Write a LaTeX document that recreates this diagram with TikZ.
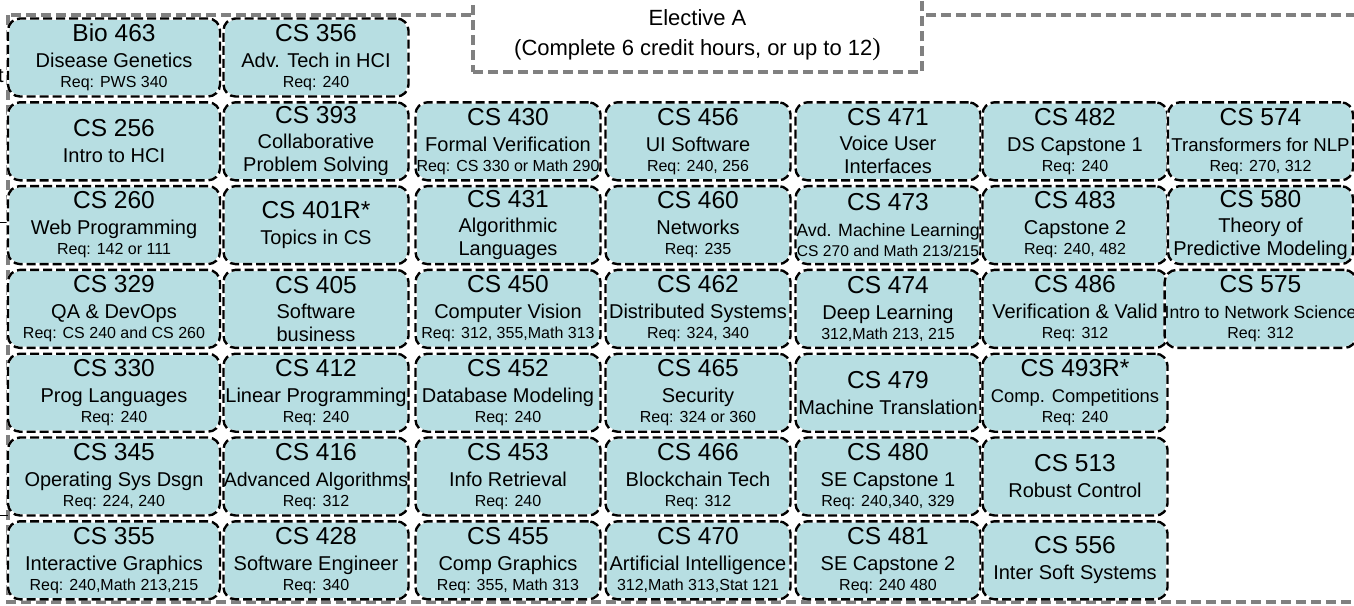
\documentclass[tikz,border=0pt]{standalone}
\usepackage{fontspec}
\setmainfont{Liberation Sans}
\newfontfamily\parenfont{Liberation Serif}
\usetikzlibrary{positioning}
\definecolor{crsfill}{RGB}{183,222,226}
\definecolor{framegray}{RGB}{128,128,128}
\newcommand{\cnum}[1]{{\fontsize{24.5pt}{26pt}\selectfont #1}}
\newcommand{\creq}[1]{{\fontsize{16pt}{18pt}\selectfont #1}}
\newcommand{\csmall}[2]{{\fontsize{#1pt}{20pt}\selectfont #2}}

\begin{document}
\begin{tikzpicture}[
    x=1pt, y=-1pt,
    node distance=5.8pt and 4pt,
    course/.style={rectangle, rounded corners=12pt, fill=crsfill, draw=white, line width=2.6pt,
        minimum width=185pt, minimum height=78pt, inner sep=0pt, outer sep=0pt,
        align=center, font=\fontsize{20pt}{20pt}\selectfont,
        postaction={draw=black, line width=2.4pt, dash pattern=on 9pt off 4pt}},
    widecourse/.style={course, minimum width=212pt},
    groupframe/.style={draw=framegray, line width=4.5pt, dash pattern=on 10pt off 5pt},
    titlebox/.style={groupframe, fill=white, minimum width=449pt, minimum height=102pt}
]
\useasboundingbox (0,0) rectangle (1354,605);
\clip (0,0) rectangle (1354,605);

% Group frame and heading
\draw[groupframe] (8,15) rectangle (1400,602);
\node[titlebox] (elective) at (697.5,21) {};
\node[align=center, font=\fontsize{22pt}{30pt}\selectfont] (electtext) at (697.5,35)
    {Elective A\\(Complete 6 credit hours, or up to 12{\parenfont\fontsize{25pt}{30pt}\selectfont )}};

% Cut-off links at the left edge
\node[anchor=base east, inner sep=0pt, font=\fontsize{20pt}{20pt}\selectfont] (tcut) at (4,82) {t};
\coordinate (linkA) at (0,222);
\coordinate (linkAend) at (8,222);
\coordinate (linkB) at (0,515);
\coordinate (linkBend) at (8,515);
\draw[line width=1pt] (linkA) -- (linkAend);
\draw[line width=1pt] (linkB) -- (linkBend);

% Column 1
\node[widecourse] (bio463) at (114,57.5) {\cnum{Bio 463}\\[6pt] Disease Genetics\\ \creq{Req: PWS 340}};
\node[widecourse, below=of bio463] (cs256) {\cnum{CS 256}\\[6pt] Intro to HCI};
\node[widecourse, below=of cs256] (cs260) {\cnum{CS 260}\\[6pt] Web Programming\\ \creq{Req: 142 or 111}};
\node[widecourse, below=of cs260] (cs329) {\cnum{CS 329}\\[6pt] QA \& DevOps\\ \creq{Req: CS 240 and CS 260}};
\node[widecourse, below=of cs329] (cs330) {\cnum{CS 330}\\[6pt] Prog Languages\\ \creq{Req: 240}};
\node[widecourse, below=of cs330] (cs345) {\cnum{CS 345}\\[6pt] Operating Sys Dsgn\\ \creq{Req: 224, 240}};
\node[widecourse, below=of cs345] (cs355) {\cnum{CS 355}\\[6pt] Interactive Graphics\\ \creq{Req: 240,Math 213,215}};

% Column 2
\node[course] (cs356) at (316,57.5) {\cnum{CS 356}\\[6pt] Adv. Tech in HCI\\ \creq{Req: 240}};
\node[course, below=of cs356] (cs393) {\cnum{CS 393}\\[5pt] Collaborative\\[3pt] Problem Solving};
\node[course, below=of cs393] (cs401) {\cnum{CS 401R*}\\[6pt] Topics in CS};
\node[course, below=of cs401] (cs405) {\cnum{CS 405}\\[5pt] Software\\[3pt] business};
\node[course, below=of cs405] (cs412) {\cnum{CS 412}\\[6pt] Linear Programming\\ \creq{Req: 240}};
\node[course, below=of cs412] (cs416) {\cnum{CS 416}\\[6pt] \csmall{19.5}{Advanced Algorithms}\\ \creq{Req: 312}};
\node[course, below=of cs416] (cs428) {\cnum{CS 428}\\[6pt] Software Engineer\\ \creq{Req: 340}};

% Column 3
\node[course] (cs430) at (508,141.3) {\cnum{CS 430}\\[6pt] Formal Verification\\ \creq{Req: CS 330 or Math 290}};
\node[course, below=of cs430] (cs431) {\cnum{CS 431}\\[5pt] Algorithmic\\[3pt] Languages};
\node[course, below=of cs431] (cs450) {\cnum{CS 450}\\[6pt] Computer Vision\\ \creq{Req: 312, 355,Math 313}};
\node[course, below=of cs450] (cs452) {\cnum{CS 452}\\[6pt] Database Modeling\\ \creq{Req: 240}};
\node[course, below=of cs452] (cs453) {\cnum{CS 453}\\[6pt] Info Retrieval\\ \creq{Req: 240}};
\node[course, below=of cs453] (cs455) {\cnum{CS 455}\\[6pt] Comp Graphics\\ \creq{Req: 355, Math 313}};

% Column 4
\node[course] (cs456) at (698,141.3) {\cnum{CS 456}\\[6pt] UI Software\\ \creq{Req: 240, 256}};
\node[course, below=of cs456] (cs460) {\cnum{CS 460}\\[6pt] Networks\\ \creq{Req: 235}};
\node[course, below=of cs460] (cs462) {\cnum{CS 462}\\[6pt] Distributed Systems\\ \creq{Req: 324, 340}};
\node[course, below=of cs462] (cs465) {\cnum{CS 465}\\[6pt] Security\\ \creq{Req: 324 or 360}};
\node[course, below=of cs465] (cs466) {\cnum{CS 466}\\[6pt] Blockchain Tech\\ \creq{Req: 312}};
\node[course, below=of cs466] (cs470) {\cnum{CS 470}\\[6pt] Artificial Intelligence\\ \creq{312,Math 313,Stat 121}};

% Column 5
\node[course] (cs471) at (888,141.3) {\cnum{CS 471}\\[5pt] Voice User\\[3pt] Interfaces};
\node[course, below=of cs471] (cs473) {\cnum{CS 473}\\[6pt] \csmall{17.8}{Avd. Machine Learning}\\ \csmall{15.6}{CS 270 and Math 213/215}};
\node[course, below=of cs473] (cs474) {\cnum{CS 474}\\[6pt] Deep Learning\\ \creq{312,Math 213, 215}};
\node[course, below=of cs474] (cs479) {\cnum{CS 479}\\[6pt] Machine Translation};
\node[course, below=of cs479] (cs480) {\cnum{CS 480}\\[6pt] SE Capstone 1\\ \creq{Req: 240,340, 329}};
\node[course, below=of cs480] (cs481) {\cnum{CS 481}\\[6pt] SE Capstone 2\\ \creq{Req: 240 480}};

% Column 6
\node[course] (cs482) at (1075,141.3) {\cnum{CS 482}\\[6pt] DS Capstone 1\\ \creq{Req: 240}};
\node[course, below=of cs482] (cs483) {\cnum{CS 483}\\[6pt] Capstone 2\\ \creq{Req: 240, 482}};
\node[course, below=of cs483] (cs486) {\cnum{CS 486}\\[6pt] Verification \& Valid\\ \creq{Req: 312}};
\node[course, below=of cs486] (cs493) {\cnum{CS 493R*}\\[6pt] \csmall{18.4}{Comp. Competitions}\\ \creq{Req: 240}};
\node[course, below=of cs493] (cs513) {\cnum{CS 513}\\[6pt] Robust Control};
\node[course, below=of cs513] (cs556) {\cnum{CS 556}\\[6pt] Inter Soft Systems};

% Column 7
\node[course] (cs574) at (1260.5,141.3) {\cnum{CS 574}\\[6pt] \csmall{18.6}{Transformers for NLP}\\ \creq{Req: 270, 312}};
\node[course, below=of cs574] (cs580) {\cnum{CS 580}\\[5pt] Theory of\\[3pt] Predictive Modeling};
\node[course, below=of cs580] (cs575) {\cnum{CS 575}\\[6pt] \csmall{17.6}{Intro to Network Science}\\ \creq{Req: 312}};

\end{tikzpicture}
\end{document}
